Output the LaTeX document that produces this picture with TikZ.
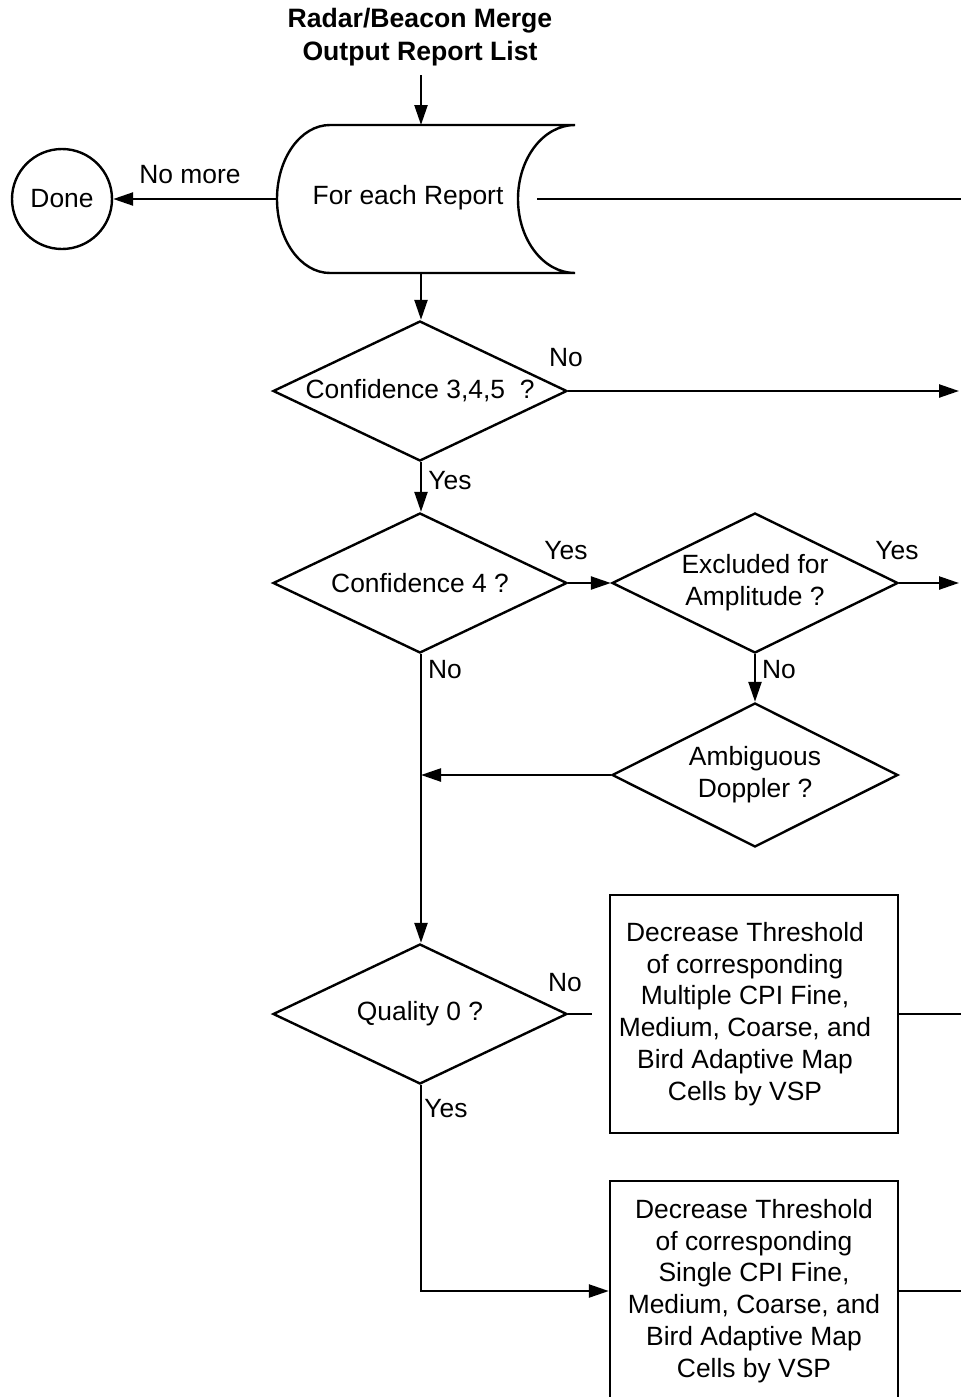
\documentclass[tikz,border=0pt]{standalone}
\usepackage{fontspec}
\setmainfont{Liberation Sans}
\usetikzlibrary{shapes.geometric,arrows.meta}
\begin{document}
\begin{tikzpicture}[x=0.5pt,y=-0.5pt,
  line width=1.2pt,
  txt/.style={font=\fontsize{13.2}{15.9}\selectfont, align=center, inner sep=0pt},
  decision/.style={txt, draw, diamond, shape aspect=2.08, minimum width=147pt, minimum height=70pt},
  process/.style={txt, draw, rectangle, minimum width=144pt},
  terminal/.style={txt, draw, circle, minimum size=50pt},
  lbl/.style={txt},
  arr/.style={-{Triangle[length=10pt,width=6.5pt]}},
]
\useasboundingbox (0,0) rectangle (961,1397);
\clip (0,0) rectangle (961,1397);

% heading
\node[txt, font=\fontsize{13.3}{16.5}\selectfont\bfseries, inner ysep=4pt] (title) at (420,37)
  {Radar/Beacon Merge\\Output Report List};

% loop limit symbol
\draw (330,125) -- (575,125)
  arc[start angle=270, end angle=90, x radius=57, y radius=74]
  -- (330,273)
  arc[start angle=90, end angle=270, x radius=53, y radius=74] -- cycle;
\node[txt] (each) at (408,198) {For each Report};
\coordinate (loopTop) at (421,125);
\coordinate (loopBot) at (421,273);
\coordinate (loopLeft) at (277,199);
\coordinate (loopRight) at (537,199);

\node[terminal] (done) at (62,199) {Done};

% decisions
\node[decision] (d1) at (420,391) {Confidence 3,4,5 \ ?};
\node[decision] (d2) at (420,583) {Confidence 4 ?};
\node[decision, minimum width=143pt] (d3) at (755,583) {Excluded for\\Amplitude ?};
\node[decision, minimum width=143pt, minimum height=72pt] (d4) at (755,775) {Ambiguous\\Doppler ?};
\node[decision] (d5) at (420,1014) {Quality 0 ?};

% processes
\node[process, minimum height=119pt] (b1) at (754,1014) {};
\node[txt] (b1text) at (745,1014)
  {Decrease Threshold\\of corresponding\\Multiple CPI Fine,\\Medium, Coarse, and\\Bird Adaptive Map\\Cells by VSP};
\node[process, minimum height=110pt] (b2) at (754,1291)
  {Decrease Threshold\\of corresponding\\Single CPI Fine,\\Medium, Coarse, and\\Bird Adaptive Map\\Cells by VSP};

% free ends at the right margin
\coordinate (r0) at (961,199);
\coordinate (r1) at (959,391);
\coordinate (r2) at (959,583);
\coordinate (r3) at (961,1014);
\coordinate (r4) at (961,1291);
\coordinate (q0end) at (592,1014);
\coordinate (join) at (421,775);

% connectors
\draw[arr] (title.south -| loopTop) -- (loopTop);
\draw[arr] (loopLeft) -- (done);
\draw (loopRight) -- (r0);
\draw[arr] (loopBot) -- (loopBot |- d1.north);
\draw[arr] (d1.east) -- (r1);
\draw[arr] (loopBot |- d1.south) -- (loopBot |- d2.north);
\draw[arr] (d2.east) -- (d3.west);
\draw[arr] (d3.east) -- (r2);
\draw[arr] (d3.south) -- (d4.north);
\draw[arr] (d4.west) -- (join);
\draw[arr] (loopBot |- d2.south) -- (loopBot |- d5.north);
\draw (d5.east) -- (q0end);
\draw (b1.east) -- (r3);
\draw[arr] (loopBot |- d5.south) |- (b2.west);
\draw (b2.east) -- (r4);

% branch labels
\node[lbl] (lNoMore) at (190,175) {No more};
\node[lbl] (l1no) at (566,358) {No};
\node[lbl] (l1yes) at (450,481) {Yes};
\node[lbl] (l2yes) at (566,551) {Yes};
\node[lbl] (l3yes) at (897,551) {Yes};
\node[lbl] (l2no) at (445,670) {No};
\node[lbl] (l3no) at (779,670) {No};
\node[lbl] (l5no) at (565,983) {No};
\node[lbl] (l5yes) at (446,1109) {Yes};
\end{tikzpicture}
\end{document}
